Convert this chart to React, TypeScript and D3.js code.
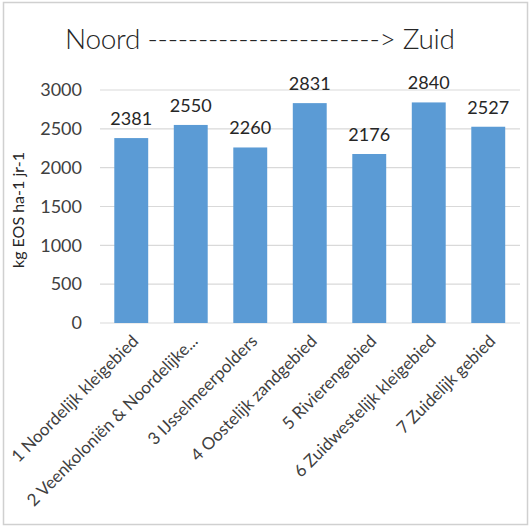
import * as d3 from 'd3';
import { useEffect, useRef } from 'react';

const categories = [
  '1 Noordelijk kleigebied',
  '2 Veenkoloniën & Noordelijke...',
  '3 IJsselmeerpolders',
  '4 Oostelijk zandgebied',
  '5 Rivierengebied',
  '6 Zuidwestelijk kleigebied',
  '7 Zuidelijk gebied',
];
const values = [2381, 2550, 2260, 2831, 2176, 2840, 2527];
const yTicks = [0, 500, 1000, 1500, 2000, 2500, 3000];

const W = 530;
const H = 528;
const FONT = 'Lato, "Open Sans", sans-serif';

export default function App() {
  const svgRef = useRef<SVGSVGElement>(null);

  useEffect(() => {
    if (!svgRef.current) return;
    const svg = d3.select(svgRef.current);
    svg.selectAll('*').remove();

    const x = d3.scaleBand<string>().domain(categories).range([101.5, 518]).paddingInner(0.43).paddingOuter(0.215);
    const y = d3.scaleLinear().domain([0, 3000]).range([323, 90]);

    // frame
    svg
      .append('rect')
      .attr('x', 3.5)
      .attr('y', 2.5)
      .attr('width', W - 6)
      .attr('height', H - 6)
      .attr('fill', '#fff')
      .attr('stroke', '#d0d0d0')
      .attr('stroke-width', 1.5);

    // title
    svg
      .append('text')
      .attr('x', 260)
      .attr('y', 49)
      .attr('text-anchor', 'middle')
      .style('font-family', FONT)
      .style('font-size', '28px')
      .style('font-weight', 300)
      .attr('textLength', 390)
      .attr('fill', '#262626')
      .text('Noord -----------------------> Zuid');

    // gridlines
    svg
      .append('g')
      .selectAll('line')
      .data(yTicks)
      .join('line')
      .attr('x1', 100)
      .attr('x2', 520)
      .attr('y1', (d) => y(d))
      .attr('y2', (d) => y(d))
      .attr('stroke', '#d9d9d9')
      .attr('stroke-width', 1.2);

    // y tick labels
    svg
      .append('g')
      .selectAll('text')
      .data(yTicks)
      .join('text')
      .attr('x', 82)
      .attr('y', (d) => y(d))
      .attr('dy', '0.35em')
      .attr('text-anchor', 'end')
      .style('font-family', FONT)
      .style('font-size', '18px')
      .attr('fill', '#404040')
      .text((d) => d);

    // y axis title
    svg
      .append('text')
      .attr('transform', 'translate(24,210) rotate(-90)')
      .attr('text-anchor', 'middle')
      .style('font-family', FONT)
      .style('font-size', '16px')
      .attr('fill', '#262626')
      .text('kg EOS ha-1 jr-1');

    // bars
    svg
      .append('g')
      .selectAll('rect')
      .data(values)
      .join('rect')
      .attr('x', (_, i) => x(categories[i])!)
      .attr('width', x.bandwidth())
      .attr('y', (d) => y(d))
      .attr('height', (d) => y(0) - y(d))
      .attr('fill', '#5b9bd5');

    // value labels
    svg
      .append('g')
      .selectAll('text')
      .data(values)
      .join('text')
      .attr('x', (_, i) => x(categories[i])! + x.bandwidth() / 2)
      .attr('y', (d) => y(d) - 13)
      .attr('text-anchor', 'middle')
      .style('font-family', FONT)
      .style('font-size', '18px')
      .attr('fill', '#262626')
      .text((d) => d);

    // category labels
    svg
      .append('g')
      .selectAll('text')
      .data(categories)
      .join('text')
      .attr('transform', (d) => `translate(${x(d)! + x.bandwidth() / 2 + 4},${y(0) + 15}) rotate(-45)`)
      .attr('text-anchor', 'end')
      .attr('dy', '0.35em')
      .style('font-family', FONT)
      .style('font-size', '17px')
      .attr('fill', '#404040')
      .text((d) => d);
  }, []);

  return (
    <div style={{ position: 'absolute', left: 0, top: 0 }}>
      <svg ref={svgRef} width={W} height={H} viewBox={`0 0 ${W} ${H}`} style={{ display: 'block' }} />
    </div>
  );
}
